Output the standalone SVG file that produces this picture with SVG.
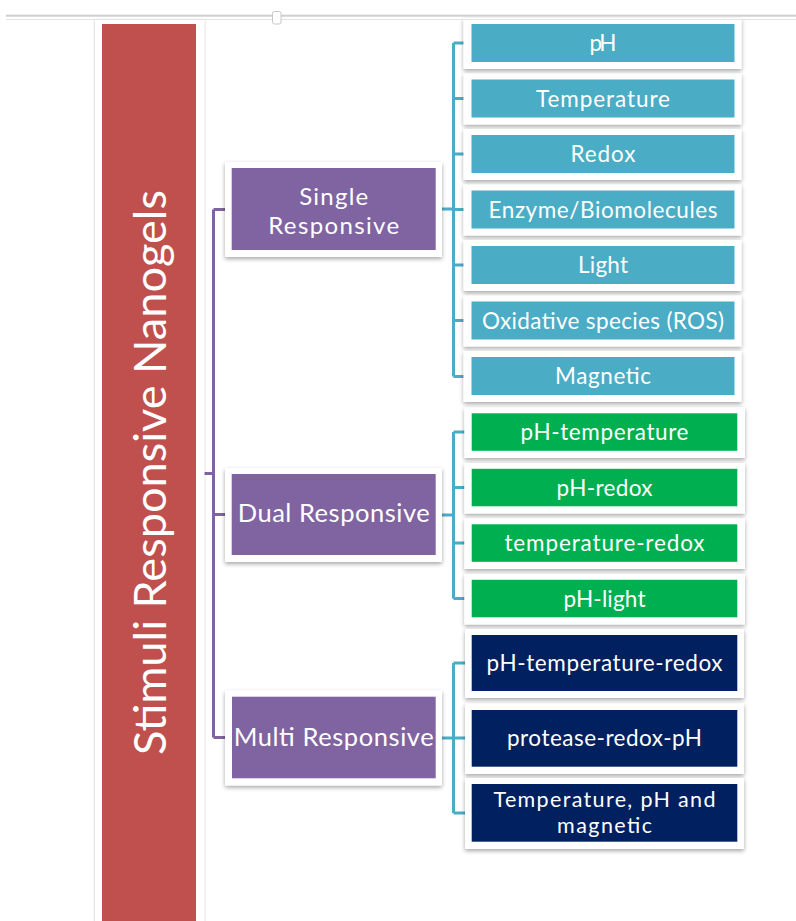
<svg xmlns="http://www.w3.org/2000/svg" width="796" height="921" viewBox="0 0 796 921">
<defs>
<filter id="sh" x="-10%" y="-20%" width="120%" height="150%">
<feDropShadow dx="0" dy="2" stdDeviation="2" flood-color="#000" flood-opacity="0.35"/>
</filter>
<filter id="sh2" x="-10%" y="-5%" width="120%" height="110%">
<feDropShadow dx="0" dy="0" stdDeviation="1.2" flood-color="#000" flood-opacity="0.3"/>
</filter>
</defs>
<style>
.card{fill:#ffffff;filter:url(#sh)}
.t{font-family:Lato,"Open Sans",sans-serif;fill:#ffffff;text-anchor:middle}
.c{font-size:22.5px}
.c2{font-size:21.5px}
.p{font-size:25.5px}
.p2{font-size:24px}
.blue{fill:#4BACC6}
.green{fill:#00B050}
.navy{fill:#002060}
.purple{fill:#8064A2}
.lb{fill:none;stroke:#4BACC6;stroke-width:3}
.lp{fill:none;stroke:#8064A2;stroke-width:3}
</style>
<rect width="796" height="921" fill="#ffffff"/>

<g id="connectors">
<path class="lp" d="M204,473.5 H213.5 M213.5,209.5 V737.5 M213.5,209.5 H226 M213.5,514.5 H226 M213.5,737.5 H226"/>
<path class="lb" d="M441,209 H453.5 M453.5,43 V376.5 M453.5,43 H465 M453.5,98.5 H465 M453.5,154 H465 M453.5,209.5 H465 M453.5,265 H465 M453.5,320.5 H465 M453.5,376.5 H465"/>
<path class="lb" d="M441,515 H453.5 M453.5,432 V598.5 M453.5,432 H465 M453.5,487.5 H465 M453.5,543 H465 M453.5,598.5 H465"/>
<path class="lb" d="M441,738 H453.5 M453.5,663 V813 M453.5,663 H466 M453.5,738 H466 M453.5,813 H466"/>
</g>

<g id="root">
<rect x="95" y="20" width="109.5" height="910" fill="#ffffff" filter="url(#sh2)"/>
<rect x="102" y="24" width="94" height="906" fill="#C0504D"/>
<text class="t" font-size="45" textLength="565" lengthAdjust="spacingAndGlyphs" transform="translate(165.5,472.5) rotate(-90)">Stimuli Responsive Nanogels</text>
</g>

<g id="single">
<rect class="card" x="225" y="162" width="217" height="95"/>
<rect class="purple" x="231.7" y="168" width="204" height="82"/>
<text class="t p2" x="333.7" y="204.5" textLength="69">Single</text>
<text class="t p2" x="333.7" y="233.5" textLength="131">Responsive</text>
</g>
<g id="dual">
<rect class="card" x="225" y="468" width="217" height="94"/>
<rect class="purple" x="231.7" y="474" width="204" height="81"/>
<text class="t p" x="333.7" y="522" textLength="192">Dual Responsive</text>
</g>
<g id="multi">
<rect class="card" x="225" y="690.5" width="217" height="95"/>
<rect class="purple" x="232" y="696.7" width="203.7" height="81.6"/>
<text class="t p" x="333.7" y="745.5" textLength="200">Multi Responsive</text>
</g>

<g id="ph">
<rect class="card" x="463.5" y="18" width="278" height="51"/>
<rect class="blue" x="471.5" y="24" width="263" height="38"/>
<text class="t c" x="603" y="51" textLength="27">pH</text>
</g>
<g id="temperature">
<rect class="card" x="463.5" y="73.5" width="278" height="51"/>
<rect class="blue" x="471.5" y="79.5" width="263" height="38"/>
<text class="t c" x="603" y="106.5" textLength="134">Temperature</text>
</g>
<g id="redox">
<rect class="card" x="463.5" y="129" width="278" height="51"/>
<rect class="blue" x="471.5" y="135" width="263" height="38"/>
<text class="t c" x="603" y="162" textLength="65">Redox</text>
</g>
<g id="enzyme">
<rect class="card" x="463.5" y="184.5" width="278" height="51"/>
<rect class="blue" x="471.5" y="190.5" width="263" height="38"/>
<text class="t c" x="603" y="217.5" textLength="229">Enzyme/Biomolecules</text>
</g>
<g id="light">
<rect class="card" x="463.5" y="240" width="278" height="51"/>
<rect class="blue" x="471.5" y="246" width="263" height="38"/>
<text class="t c" x="603" y="273" textLength="50">Light</text>
</g>
<g id="ros">
<rect class="card" x="463.5" y="295.5" width="278" height="51"/>
<rect class="blue" x="471.5" y="301.5" width="263" height="38"/>
<text class="t c" x="603" y="328.5" textLength="242">Oxidative species (ROS)</text>
</g>
<g id="magnetic">
<rect class="card" x="463.5" y="351" width="278" height="51"/>
<rect class="blue" x="471.5" y="357" width="263" height="38"/>
<text class="t c" x="603" y="384" textLength="96">Magnetic</text>
</g>

<g id="ph-temperature">
<rect class="card" x="464.3" y="407.5" width="280.7" height="50.5"/>
<rect class="green" x="471.7" y="413.3" width="265.6" height="37.5"/>
<text class="t c" x="604.5" y="440" textLength="168">pH-temperature</text>
</g>
<g id="ph-redox">
<rect class="card" x="464.3" y="463" width="280.7" height="50.5"/>
<rect class="green" x="471.7" y="468.8" width="265.6" height="37.5"/>
<text class="t c" x="604.5" y="495.5" textLength="96">pH-redox</text>
</g>
<g id="temperature-redox">
<rect class="card" x="464.3" y="518.5" width="280.7" height="50.5"/>
<rect class="green" x="471.7" y="524.3" width="265.6" height="37.5"/>
<text class="t c" x="604.5" y="551" textLength="200">temperature-redox</text>
</g>
<g id="ph-light">
<rect class="card" x="464.3" y="574" width="280.7" height="50.5"/>
<rect class="green" x="471.7" y="579.8" width="265.6" height="37.5"/>
<text class="t c" x="604.5" y="606.5" textLength="82">pH-light</text>
</g>

<g id="ph-temperature-redox">
<rect class="card" x="465" y="629" width="279" height="69"/>
<rect class="navy" x="471.7" y="635" width="265.6" height="56"/>
<text class="t c" x="604.5" y="671" textLength="236">pH-temperature-redox</text>
</g>
<g id="protease-redox-ph">
<rect class="card" x="465" y="703.5" width="279" height="70.5"/>
<rect class="navy" x="471.7" y="710" width="265.6" height="56.7"/>
<text class="t c" x="604.5" y="746" textLength="195">protease-redox-pH</text>
</g>
<g id="temperature-ph-magnetic">
<rect class="card" x="465" y="778" width="279" height="71"/>
<rect class="navy" x="471.7" y="784" width="265.6" height="57.7"/>
<text class="t c2" x="604.5" y="807" textLength="222">Temperature, pH and</text>
<text class="t c2" x="604.5" y="833" textLength="95">magnetic</text>
</g>

<g id="top-bar">
<rect x="6" y="14.7" width="790" height="2" fill="#cfcfcf"/>
<rect x="6" y="19" width="790" height="1" fill="#e3e3e3"/>
<rect x="272.5" y="11.5" width="8.5" height="12.5" rx="2" fill="#ffffff" stroke="#c8c8c8" stroke-width="1"/>
</g>
</svg>
